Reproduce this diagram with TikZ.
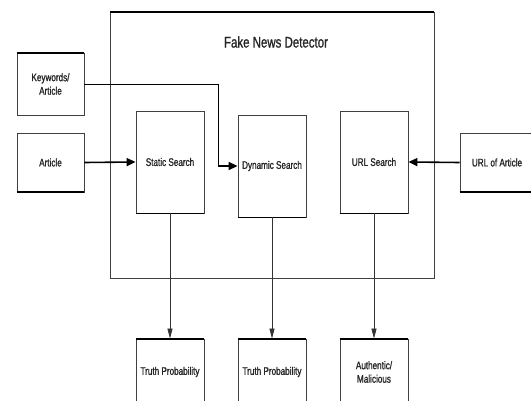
\documentclass[tikz,border=0pt]{standalone}
\usepackage{fontspec}
\setmainfont{Liberation Sans}[FakeStretch=0.74,FakeBold=1.2]
\usepackage{tikz}
\usetikzlibrary{arrows.meta}

\begin{document}
\begin{tikzpicture}[x=1pt,y=-1pt,
  box/.style={draw=black!75,line width=0.8pt,align=center,inner sep=0pt,
    font=\fontsize{11}{13.5}\selectfont,text=black!85},
  feed/.style={line width=1.6pt,-{Triangle[length=9pt,width=8pt]}},
  result/.style={line width=0.8pt,draw=black!80,-{Triangle[length=10pt,width=5pt]}}]
\useasboundingbox (0,0) rectangle (531,401);

% outer detector frame
\draw[draw=black!75,line width=0.8pt] (110,12) rectangle (434,278);
\draw[line width=2pt] (110,12) -- (434,12);
\node[text=black!85] (title) at (276,42) {\fontsize{15.5}{18}\selectfont Fake News Detector};

% inputs
\node[box,minimum width=67pt,minimum height=62pt] (kw) at (50.5,84) {Keywords/\\Article};
\node[box,minimum width=67pt,minimum height=59pt] (art) at (50.5,162.5) {Article};
\node[box,minimum width=74pt,minimum height=59pt] (url) at (497,162.5) {URL of Article};
\draw[line width=2pt] (kw.north west) -- (kw.north east);
\draw[line width=2pt] (art.south west) -- (art.south east);
\draw[line width=2pt] (url.south west) -- (url.south east);

% search modules
\node[box,minimum width=68pt,minimum height=102pt] (static) at (170,162) {Static Search};
\node[box,minimum width=68pt,minimum height=102pt] (dynamic) at (272,166) {Dynamic Search};
\node[box,minimum width=68pt,minimum height=102pt] (urls) at (374,162) {URL Search};
\draw[line width=1.6pt] (dynamic.south west) -- (dynamic.south east);
\draw[line width=1.2pt] (static.south west) -- (static.south east);
\draw[line width=1.2pt] (urls.south west) -- (urls.south east);

% outputs
\node[box,minimum width=68pt,minimum height=66pt] (out1) at (170,372) {Truth Probability};
\node[box,minimum width=68pt,minimum height=66pt] (out2) at (272,372) {Truth Probability};
\node[box,minimum width=68pt,minimum height=66pt] (out3) at (374,372) {Authentic/\\Malicious};
\foreach \o in {out1,out2,out3}
  \draw[line width=2pt] (\o.north west) -- (\o.north east);

% connectors
\coordinate (bend1) at (218,84);
\coordinate (bend2) at (218,166);
\draw[line width=0.9pt] (kw.east) -- (bend1) -- (bend2);
\draw[feed] (bend2) -- (dynamic.west);
\draw[feed] (art.east) -- (static.west);
\draw[feed] (url.west) -- (urls.east);
\draw[result] (static.south) -- (out1.north);
\draw[result] (dynamic.south) -- (out2.north);
\draw[result] (urls.south) -- (out3.north);

\end{tikzpicture}
\end{document}
